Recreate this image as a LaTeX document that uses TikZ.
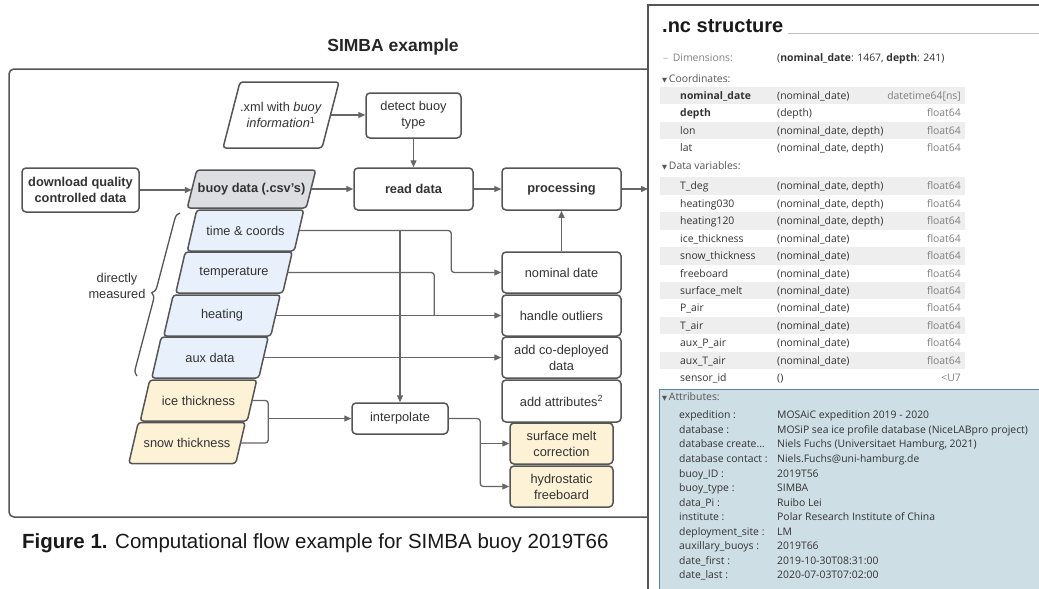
\documentclass[tikz,border=0pt]{standalone}
\usepackage{fontspec}
\setmainfont{Liberation Sans}
\newfontfamily\panelfont{Open Sans}
\newfontfamily\symfont{DejaVu Sans}
\usetikzlibrary{arrows.meta,decorations.pathreplacing,calc}
\definecolor{boxc}{HTML}{555555}
\definecolor{linec}{HTML}{666666}
\definecolor{txt}{HTML}{333333}
\definecolor{bluef}{HTML}{E8F0FB}
\definecolor{yellf}{HTML}{FDF1D6}
\definecolor{grayf}{HTML}{DCDEE2}
\definecolor{rowsh}{HTML}{EEEEEE}
\definecolor{attrbg}{HTML}{CEDEE5}
\definecolor{attrbd}{HTML}{5B7FA8}
\definecolor{typec}{HTML}{808080}
\definecolor{labc}{HTML}{555555}
\newcommand{\boxfont}{\fontsize{12.8}{16}\selectfont}
\newcommand{\pfont}{\panelfont\fontsize{10.4}{12}\selectfont}
\newcommand{\mypara}[8]{%
  \filldraw[pbord, fill=#7] ({#2-#4/2+#6},{-#3+#5/2}) -- ({#2+#4/2+#6},{-#3+#5/2}) -- ({#2+#4/2-#6},{-#3-#5/2}) -- ({#2-#4/2-#6},{-#3-#5/2}) -- cycle;
  \node[ptext, minimum width=#4, minimum height=#5] (#1) at (#2,-#3) {#8};
}
\begin{document}
\begin{tikzpicture}[x=1pt,y=1pt,
  pbord/.style={draw=boxc, line width=1.5pt, rounded corners=3pt},
  ptext/.style={inner sep=0pt, align=center, text=txt, font=\boxfont},
  rbox/.style={draw=boxc, line width=1.5pt, rounded corners=4pt, fill=white, align=center, text=txt, font=\boxfont, inner sep=0pt},
  line/.style={draw=linec, line width=1.3pt},
  arr/.style={line, -{Triangle[length=7pt,width=6pt]}},
  pt/.style={font=\pfont, inner sep=0pt, text=txt},
]
\useasboundingbox (0,0) rectangle (1039,-589);
\fill[white] (0,0) rectangle (1039,-589);

% ---------- left: flow chart ----------
\node[font=\bfseries\fontsize{17.5}{20}\selectfont, text=black!85] (title) at (393,-47) {SIMBA example};
\draw[boxc, line width=1.5pt, rounded corners=5pt] (9,-69) rectangle (670,-517);

\mypara{xml}{281}{115}{99}{66}{8.5}{white}{.xml with \textit{buoy}\\\textit{information}\textsuperscript{1}}
\mypara{bd}{251.5}{189}{119}{38}{4.75}{grayf}{\textbf{buoy data (.csv's)}}
\mypara{tc}{245.5}{230.5}{107}{41}{4.75}{bluef}{time \& coords}
\mypara{temp}{234}{272.5}{107}{41}{4.75}{bluef}{temperature}
\mypara{heat}{222}{315.5}{107}{41}{4.75}{bluef}{heating}
\mypara{aux}{210}{357.5}{107}{41}{4.75}{bluef}{aux data}
\mypara{ice}{198.5}{400.5}{107}{41}{4.75}{yellf}{ice thickness}
\mypara{snow}{187}{443}{107}{41}{4.75}{yellf}{snow thickness}

\node[rbox, minimum width=117, minimum height=44] (dl) at (80.5,-190) {\textbf{download quality}\\\textbf{controlled data}};
\node[rbox, minimum width=95, minimum height=45] (dbt) at (413.5,-115.5) {detect buoy\\type};
\node[rbox, minimum width=119, minimum height=42] (rd) at (413.5,-189) {\textbf{read data}};
\node[rbox, minimum width=119, minimum height=42] (proc) at (561.5,-189) {\textbf{processing}};
\node[rbox, minimum width=119, minimum height=41] (nd) at (561.5,-272.5) {nominal date};
\node[rbox, minimum width=119, minimum height=41] (ho) at (561.5,-315.5) {handle outliers};
\node[rbox, minimum width=119, minimum height=41] (cdp) at (561.5,-357.5) {add co-deployed\\data};
\node[rbox, minimum width=119, minimum height=42] (aa) at (561.5,-401) {add attributes\textsuperscript{2}};
\node[rbox, fill=yellf, minimum width=103, minimum height=41] (smc) at (561.5,-443.5) {surface melt\\correction};
\node[rbox, fill=yellf, minimum width=103, minimum height=41] (hf) at (561.5,-486.5) {hydrostatic\\freeboard};
\node[rbox, minimum width=96, minimum height=31] (ip) at (400,-418.5) {interpolate};

\node[font=\boxfont, text=txt, align=center, inner sep=0pt] (dm) at (117,-286) {directly\\measured};
\coordinate (bb) at (137,-376);
\coordinate (bt) at (180,-213);
\draw[draw=boxc, line width=1.3pt, decorate, decoration={brace, amplitude=7pt}] (bb) -- (bt);

\draw[arr] (xml.east) -- (xml.east -| dbt.west);
\draw[arr] (dbt.south) -- (rd.north);
\draw[arr] (dl.east) -- (dl.east -| bd.west);
\draw[arr] (bd.east) -- (rd.west);
\draw[arr] (rd.east) -- (proc.west);
\coordinate (out) at (648,-189);
\draw[arr] (proc.east) -- (out);
\draw[arr] (nd.north) -- (proc.south);
\draw[arr, rounded corners=3pt] (tc.east) -| ([xshift=-50pt]nd.west) -- (nd.west);
\draw[arr] (tc.east -| ip.north) -- (ip.north);
\draw[line, rounded corners=3pt] (temp.east) -| ([xshift=-67pt]ho.west);
\draw[arr] (heat.east) -- (ho.west);
\draw[arr] (aux.east) -- (cdp.west);
\draw[line, rounded corners=3pt] (ice.east) -| ([xshift=-83pt]ip.west) |- (snow.east);
\draw[arr] ([xshift=-83pt]ip.west) -- (ip.west);
\draw[arr, rounded corners=3pt] (ip.east) -| ([xshift=-29pt]smc.west) |- (hf.west);
\draw[arr] ([xshift=-29pt]smc.west) -- (smc.west);

\node[anchor=base west, font=\fontsize{20.5}{24}\selectfont, text=black!90, inner sep=0pt] (cap) at (22,-548) {\textbf{Figure 1.} Computational flow example for SIMBA buoy 2019T66};

% ---------- right: .nc structure ----------
\fill[white] (648,-5) rectangle (1039,-589);
\draw[draw=boxc, line width=1.5pt] (648,-589) -- (648,-5) -- (1039,-5);
\node[anchor=base west, inner sep=0pt, font=\bfseries\fontsize{20}{24}\selectfont, text=black!90] (nch) at (662,-32) {.nc structure};
\coordinate (ulend) at (1039,-33.5);
\draw[black!25, line width=0.8pt] ([xshift=4pt,yshift=-1.5pt]nch.base east) -- (ulend);

\node[pt, anchor=base west, text=typec] (dimlab) at (663,-61.4) {{\color{black!30}–}\, Dimensions:};
\node[pt, anchor=base west] (dimval) at (777,-61.4) {(\textbf{nominal\_date}: 1467, \textbf{depth}: 241)};
\node[pt, anchor=base west, text=labc] (coordlab) at (662,-82.4) {{\symfont\fontsize{6.5}{8}\selectfont ▼}\,Coordinates:};
\foreach [count=\i from 0] \nm/\dm/\ty in {{\textbf{nominal\_date}}/{(nominal\_date)}/{datetime64[ns]}, {\textbf{depth}}/{(depth)}/float64, lon/{(nominal\_date, depth)}/float64, lat/{(nominal\_date, depth)}/float64} {
  \pgfmathsetmacro\yy{95.5+17.35*\i}
  \ifodd\i\else \fill[rowsh] (660,-\yy+8.65) rectangle (965,-\yy-8.65); \fi
  \node[pt, anchor=base west] (cvn\i) at (680,-\yy-3.8) {\nm};
  \node[pt, anchor=base west] (cvd\i) at (777,-\yy-3.8) {\dm};
  \node[pt, anchor=base east, text=typec] (cvt\i) at (961,-\yy-3.8) {\ty};
}
\node[pt, anchor=base west, text=labc] (datalab) at (662,-169.7) {{\symfont\fontsize{6.5}{8}\selectfont ▼}\,Data variables:};
\foreach [count=\i from 0] \nm/\dm/\ty in {T\_deg/{(nominal\_date, depth)}/float64, heating030/{(nominal\_date, depth)}/float64, heating120/{(nominal\_date, depth)}/float64, ice\_thickness/{(nominal\_date)}/float64, snow\_thickness/{(nominal\_date)}/float64, freeboard/{(nominal\_date)}/float64, surface\_melt/{(nominal\_date)}/float64, P\_air/{(nominal\_date)}/float64, T\_air/{(nominal\_date)}/float64, aux\_P\_air/{(nominal\_date)}/float64, aux\_T\_air/{(nominal\_date)}/float64, sensor\_id/{()}/{<U7}} {
  \pgfmathsetmacro\yy{186+17.45*\i}
  \ifodd\i\else \fill[rowsh] (660,-\yy+8.7) rectangle (965,-\yy-8.7); \fi
  \node[pt, anchor=base west] (dvn\i) at (680,-\yy-3.8) {\nm};
  \node[pt, anchor=base west] (dvd\i) at (777,-\yy-3.8) {\dm};
  \node[pt, anchor=base east, text=typec] (dvt\i) at (961,-\yy-3.8) {\ty};
}
\fill[attrbg] (659.5,-389) rectangle (1039,-589);
\draw[attrbd, line width=1pt] (659.5,-589) -- (659.5,-389) -- (1039,-389);
\node[pt, anchor=base west, text=labc] (attrlab) at (662,-400.7) {{\symfont\fontsize{6.5}{8}\selectfont ▼}\,Attributes:};
\foreach [count=\i from 0] \k/\v in {expedition :/MOSAiC expedition 2019 - 2020, database :/MOSiP sea ice profile database (NiceLABpro project), database create…/{Niels Fuchs (Universitaet Hamburg, 2021)}, database contact :/Niels.Fuchs@uni-hamburg.de, buoy\_ID :/2019T56, buoy\_type :/SIMBA, data\_Pi :/Ruibo Lei, institute :/Polar Research Institute of China, deployment\_site :/LM, auxillary\_buoys :/2019T66, date\_first :/2019-10-30T08:31:00, date\_last :/2020-07-03T07:02:00} {
  \pgfmathsetmacro\yy{415+14.56*\i}
  \node[pt, anchor=base west] (atk\i) at (679,-\yy-3.8) {\k};
  \node[pt, anchor=base west] (atv\i) at (777,-\yy-3.8) {\v};
}
\end{tikzpicture}
\end{document}
